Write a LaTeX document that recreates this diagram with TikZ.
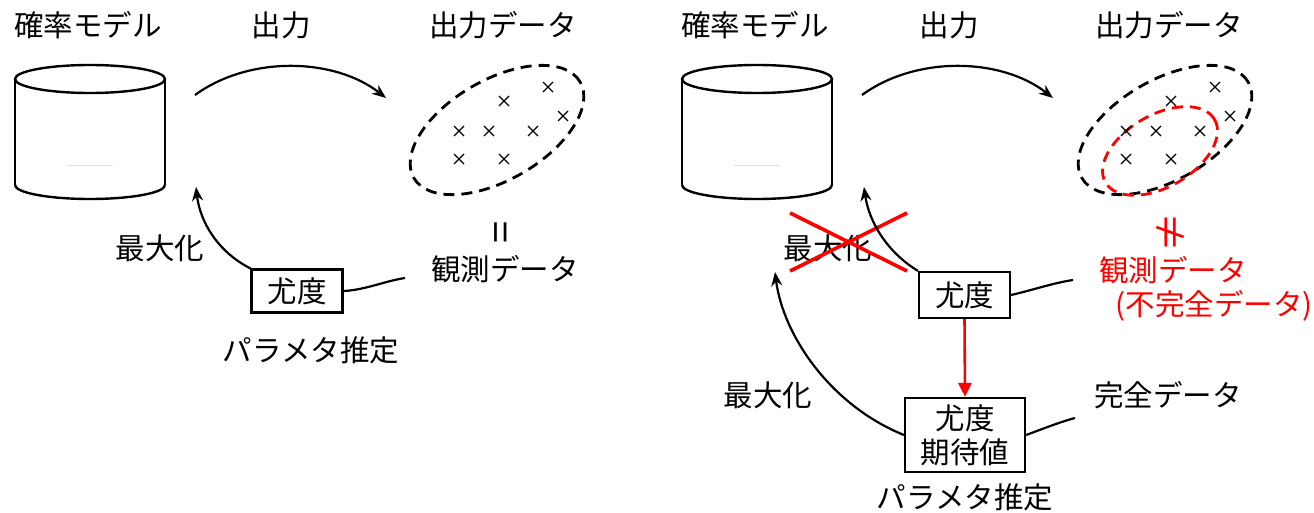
\documentclass[tikz,border=0pt]{standalone}
\usepackage{fontspec}
\newfontfamily\jp{Noto Sans CJK JP}
\usetikzlibrary{arrows.meta}
\definecolor{rd}{RGB}{255,0,0}
\begin{document}
\begin{tikzpicture}[x=1pt,y=-1pt,
  lbl/.style={font=\jp\fontsize{29.5}{34}\selectfont, inner sep=0pt, anchor=center},
  boxn/.style={draw, line width=2.2pt, font=\jp\fontsize{29.5}{34}\selectfont, inner sep=0pt, align=center},
  conn/.style={line width=2.2pt},
  arr/.style={conn, -{Stealth[length=14pt,width=11pt]}},
  dashell/.style={line width=2.8pt, dash pattern=on 11pt off 7pt},
  xm/.style={line width=1.3pt},
  redx/.style={rd, line width=3.6pt}
]
\useasboundingbox (0,0) rectangle (1314,513);

% ---------- cylinders ----------
\foreach \cx in {90,757}{
  \draw[line width=2.4pt] (\cx,79) ellipse [x radius=75pt, y radius=14pt];
  \draw[line width=2.4pt] (\cx-75,79) -- (\cx-75,185);
  \draw[line width=2.4pt] (\cx+75,79) -- (\cx+75,185);
  \draw[line width=2.4pt] (\cx-75,185) arc[start angle=180, end angle=360, x radius=75pt, y radius=14pt];
  \draw[black!12, line width=1pt] (\cx-23,166) -- (\cx+23,166);
}

% ---------- titles ----------
\node[lbl] (t1) at (88,25) {確率モデル};
\node[lbl] (t2) at (281,25) {出力};
\node[lbl] (t3) at (503,25) {出力データ};
\node[lbl] (t4) at (755,25) {確率モデル};
\node[lbl] (t5) at (949,25) {出力};
\node[lbl] (t6) at (1169,25) {出力データ};

% ---------- output arcs ----------
\coordinate (a1s) at (195,95); \coordinate (a1e) at (386,98);
\coordinate (a2s) at (862,95); \coordinate (a2e) at (1053,98);
\draw[arr] (a1s) .. controls (250,55) and (335,58) .. (a1e);
\draw[arr] (a2s) .. controls (917,55) and (1002,58) .. (a2e);

% ---------- data ellipses ----------
\draw[dashell, rotate around={30:(497,130)}] (497,130) ellipse [x radius=96pt, y radius=50pt];
\draw[dashell, rotate around={30:(1165,130)}] (1165,130) ellipse [x radius=96pt, y radius=50pt];
\draw[dashell, rd, rotate around={30:(1160,151)}] (1160,151) ellipse [x radius=63pt, y radius=36pt];

\foreach \px/\py in {548/87,504/101,459/131,489/131,533/131,563/116,459/159,504/159}{
  \draw[xm] (\px-5,\py-5) -- (\px+5,\py+5) (\px-5,\py+5) -- (\px+5,\py-5);
  \draw[xm] (\px+662,\py-5) -- (\px+672,\py+5) (\px+662,\py+5) -- (\px+672,\py-5);
}

% ---------- left panel ----------
\node[lbl, rotate=90, font=\jp\fontsize{40}{40}\selectfont] (eq1) at (505,232) {=};
\node[lbl] (obs1) at (505,269) {観測データ};
\node[boxn, minimum width=91pt, minimum height=43pt] (b1) at (297,291) {尤度};
\node[lbl] (mx1) at (160,248) {最大化};
\node[lbl] (pe1) at (311,350) {パラメタ推定};
\coordinate (c1) at (196,187);
\coordinate (r1) at (405,278);
\draw[arr] (b1.north west) .. controls (218,252) and (200,222) .. (c1);
\draw[conn] (b1.east) .. controls (365,290) and (385,281) .. (r1);

% ---------- right panel ----------
\node[lbl, rotate=90, text=rd, font=\jp\fontsize{40}{40}\selectfont] (ne2) at (1171,232) {≠};
\node[lbl, text=rd] (obs2) at (1173,270) {観測データ};
\node[lbl, text=rd] (inc2) at (1214,306) {(不完全データ)};
\node[boxn, minimum width=91pt, minimum height=46pt] (b2) at (964.5,295) {尤度};
\node[lbl] (mx2) at (828,248) {最大化};
\draw[redx] (790,213) -- (907,271) (790,271) -- (907,213);
\coordinate (c2) at (864,187);
\coordinate (r2) at (1073,280);
\draw[arr] (b2.north west) .. controls (887,252) and (869,222) .. (c2);
\draw[conn] (b2.east) .. controls (1033,290) and (1053,283) .. (r2);

\node[boxn, minimum width=120pt, minimum height=74pt, font=\jp\fontsize{29.5}{34}\selectfont] (b3) at (965,435) {尤度\\期待値};
\draw[rd, line width=2.6pt, -{Triangle[length=14pt,width=13pt]}] (b2.south) -- (b3.north);
\node[lbl] (mx3) at (768,395) {最大化};
\node[lbl] (cd3) at (1168,395) {完全データ};
\node[lbl] (pe3) at (965,497) {パラメタ推定};
\coordinate (c3) at (775,272);
\coordinate (r3) at (1075,418);
\draw[arr] (b3.west) .. controls (830,405) and (783,335) .. (c3);
\draw[conn] (b3.east) .. controls (1045,428) and (1060,422) .. (r3);
\end{tikzpicture}
\end{document}
